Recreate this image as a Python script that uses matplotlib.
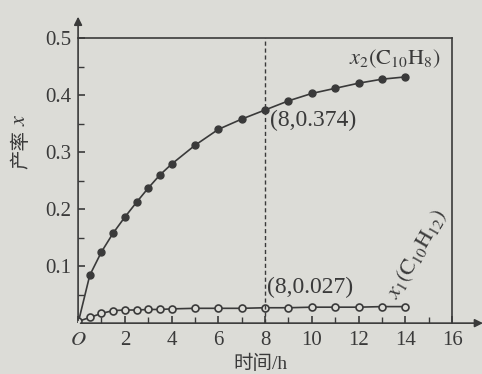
import matplotlib.pyplot as plt

plt.rcParams['font.family'] = ['Liberation Serif', 'Noto Sans CJK SC', 'DejaVu Sans']
plt.rcParams['mathtext.fontset'] = 'stix'

# 时间 (h)
t = [0, 0.5, 1, 1.5, 2, 2.5, 3, 3.5, 4, 5, 6, 7, 8, 9, 10, 11, 12, 13, 14]
# x2 (C10H8) 产率
x2 = [0, 0.084, 0.125, 0.158, 0.186, 0.212, 0.237, 0.26, 0.279, 0.312, 0.34,
      0.358, 0.374, 0.39, 0.403, 0.412, 0.421, 0.428, 0.432]
# x1 (C10H12) 产率
x1 = [0.003, 0.010, 0.017, 0.022, 0.023, 0.023, 0.024, 0.024, 0.025, 0.026, 0.026,
      0.026, 0.027, 0.027, 0.028, 0.028, 0.028, 0.029, 0.029]

bg = '#dcdcd7'
ink = '#3a3a3a'

fig = plt.figure(figsize=(4.82, 3.74), dpi=100, facecolor=bg)
ax = fig.add_axes([0.162, 0.136, 0.776, 0.762], facecolor=bg)

ax.plot(t, x2, '-', color=ink, lw=1.2)
ax.plot(t[1:], x2[1:], 'o', color=ink, ms=5)
ax.plot(t, x1, '-o', color=ink, lw=1.2, ms=5, mfc=bg, mec=ink, mew=1.2)

ax.plot([8, 8], [0, 0.5], color=ink, lw=1.0, dashes=(3, 2))

ax.set_xlim(0, 16)
ax.set_ylim(0, 0.5)

for s in ['left', 'bottom']:
    ax.spines[s].set_visible(False)
for s in ['top', 'right']:
    ax.spines[s].set_color(ink)
    ax.spines[s].set_linewidth(1.2)

# 坐标轴箭头
ax.annotate('', xy=(0, 1.085), xytext=(0, 0), xycoords='axes fraction',
            arrowprops=dict(arrowstyle='-|>', color=ink, lw=1.2, mutation_scale=12), annotation_clip=False)
ax.annotate('', xy=(1.09, 0), xytext=(0, 0), xycoords='axes fraction',
            arrowprops=dict(arrowstyle='-|>', color=ink, lw=1.2, mutation_scale=12), annotation_clip=False)

ax.set_xticks(range(0, 17, 2))
ax.set_xticklabels(['$O$', '2', '4', '6', '8', '10', '12', '14', '16'])
ax.set_xticks(range(0, 17), minor=True)
ax.set_yticks([0.1, 0.2, 0.3, 0.4, 0.5])
ax.set_yticklabels(['0.1', '0.2', '0.3', '0.4', '0.5'])
ax.set_yticks([0.05, 0.15, 0.25, 0.35, 0.45], minor=True)
ax.tick_params(which='both', direction='in', color=ink, labelcolor=ink, labelsize=15,
               top=False, right=False)
ax.tick_params(which='major', length=5, width=1.2)
ax.tick_params(axis='x', which='major', pad=6)
ax.tick_params(axis='y', which='major', pad=5)
ax.tick_params(which='minor', length=4, width=1.0)

# y 轴标题: 产率x (x 斜体)
fig.text(0.043, 0.6, '产率', fontsize=14, color=ink, rotation=90, ha='center', va='center')
fig.text(0.043, 0.68, '$x$', fontsize=16, color=ink, rotation=90, ha='center', va='center')
fig.text(0.54, 0.002, '时间/h', fontsize=14, color=ink, ha='center', va='bottom')

ax.text(11.6, 0.455, r'$x_2(\mathrm{C_{10}H_8})$', fontsize=16, color=ink)
ax.text(8.2, 0.345, '(8,0.374)', fontsize=17, color=ink)
ax.text(8.1, 0.063, '(8,0.027)', fontsize=17, color=ink, va='center')
ax.text(13.0, 0.045, r'$x_1(\mathrm{C_{10}H_{12}})$', fontsize=16, color=ink, rotation=60)

fig.savefig('out.png', dpi=100, facecolor=bg)
